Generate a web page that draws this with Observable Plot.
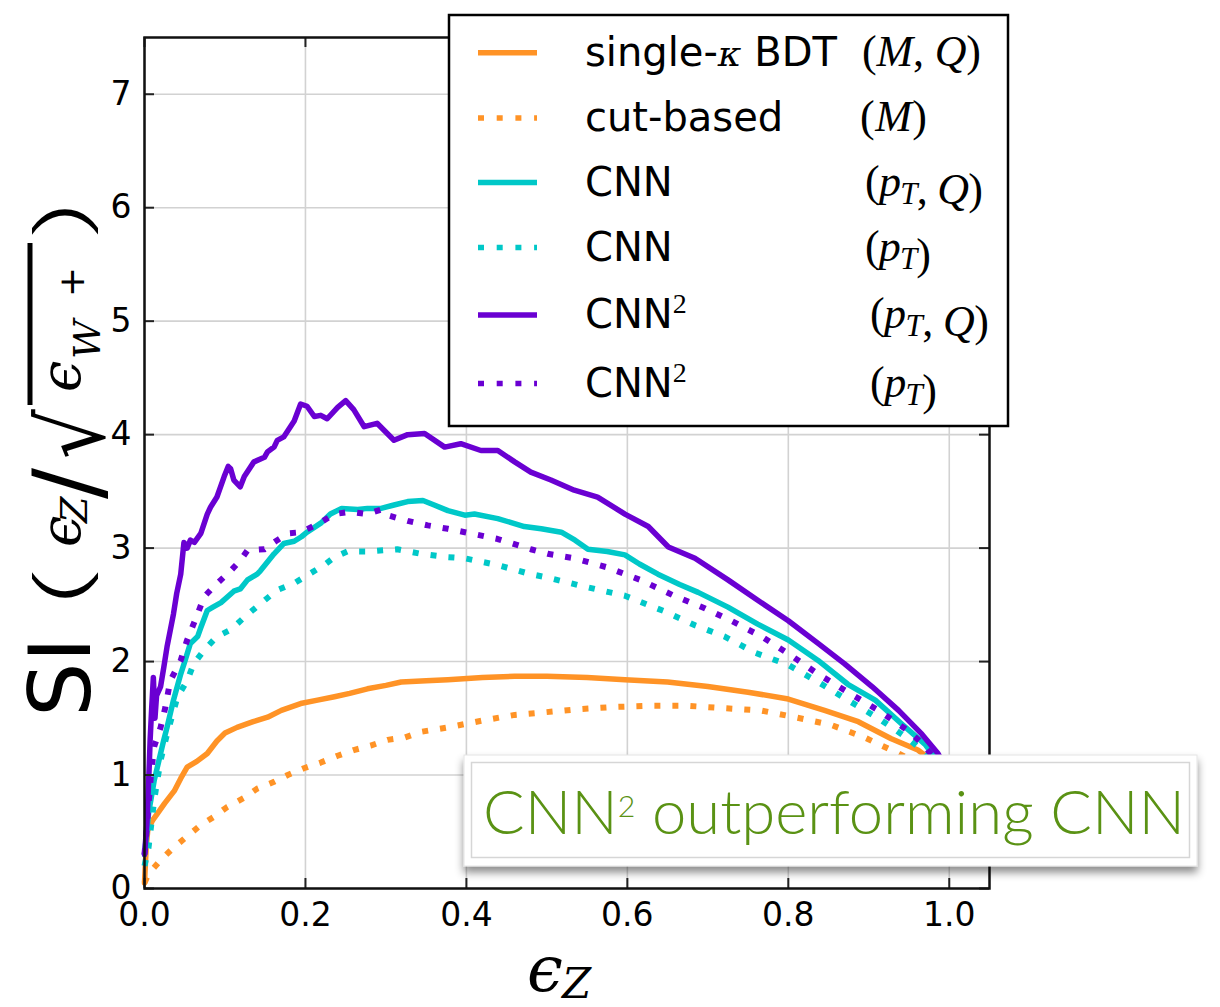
<!DOCTYPE html>
<html><head><meta charset="utf-8">
<script src="https://cdn.jsdelivr.net/npm/d3@7"></script>
<script src="https://cdn.jsdelivr.net/npm/@observablehq/plot@0.6"></script>
<style>html,body{margin:0;padding:0;background:#fff;} #chart{position:relative;width:1220px;height:1007px;overflow:hidden}</style>
</head><body><div id="chart"></div>
<script>
// ---------- data ----------
const xTicks = [0, 0.2, 0.4, 0.6, 0.8, 1.0];
const yTicks = [0, 1, 2, 3, 4, 5, 6, 7];

const seriesKeys = ["bdtMQ", "cutM", "cnnPtQ", "cnnPt", "cnn2PtQ", "cnn2Pt"];
const seriesColors = ["#ff9326", "#ff9326", "#00c8c8", "#00c8c8", "#6a00d2", "#6a00d2"];
const seriesDotted = [false, true, false, true, false, true];
const legendLabels = ["single-κ BDT", "cut-based", "CNN", "CNN", "CNN^2", "CNN^2"];
const legendMath = ["(M,Q)", "(M)", "(p_T,Q)", "(p_T)", "(p_T,Q)", "(p_T)"];
const annotationText = "CNN^2 outperforming CNN";

const bdtMQ = [[0,0.05],[0.002,0.35],[0.004,0.51],[0.01,0.6],[0.016,0.66],[0.025,0.75],[0.037,0.86],[0.045,0.97],[0.053,1.07],[0.065,1.12],[0.078,1.19],[0.09,1.3],[0.1,1.37],[0.115,1.42],[0.135,1.47],[0.153,1.51],[0.17,1.57],[0.194,1.63],[0.215,1.66],[0.236,1.69],[0.255,1.72],[0.277,1.76],[0.3,1.79],[0.319,1.82],[0.35,1.83],[0.377,1.84],[0.42,1.86],[0.46,1.87],[0.5,1.87],[0.55,1.86],[0.597,1.84],[0.65,1.82],[0.7,1.78],[0.75,1.73],[0.8,1.67],[0.845,1.57],[0.887,1.47],[0.928,1.32],[0.961,1.22],[0.98,1.12],[0.995,1.02]];
const cutM = [[0,0.05],[0.005,0.13],[0.02,0.25],[0.036,0.36],[0.053,0.46],[0.07,0.56],[0.086,0.63],[0.103,0.72],[0.124,0.8],[0.14,0.88],[0.161,0.94],[0.178,1.0],[0.198,1.06],[0.219,1.11],[0.24,1.17],[0.26,1.22],[0.281,1.26],[0.302,1.31],[0.323,1.33],[0.343,1.38],[0.377,1.42],[0.42,1.48],[0.46,1.53],[0.493,1.55],[0.539,1.58],[0.584,1.6],[0.629,1.61],[0.675,1.61],[0.719,1.59],[0.765,1.57],[0.808,1.51],[0.854,1.44],[0.895,1.33],[0.937,1.19],[0.97,1.07],[0.99,1.0]];
const cnnPtQ = [[0,0.3],[0.003,0.5],[0.005,0.66],[0.012,0.95],[0.02,1.19],[0.024,1.31],[0.028,1.42],[0.036,1.66],[0.045,1.89],[0.05,2.0],[0.057,2.16],[0.066,2.22],[0.07,2.3],[0.078,2.45],[0.085,2.48],[0.095,2.52],[0.111,2.62],[0.119,2.64],[0.128,2.72],[0.14,2.77],[0.144,2.8],[0.161,2.95],[0.173,3.04],[0.186,3.06],[0.195,3.1],[0.202,3.14],[0.219,3.22],[0.231,3.3],[0.245,3.35],[0.265,3.34],[0.277,3.35],[0.294,3.35],[0.31,3.38],[0.327,3.41],[0.346,3.42],[0.36,3.38],[0.377,3.33],[0.398,3.29],[0.41,3.3],[0.439,3.26],[0.472,3.19],[0.493,3.17],[0.518,3.14],[0.535,3.07],[0.551,2.99],[0.575,2.97],[0.597,2.94],[0.615,2.86],[0.638,2.77],[0.665,2.68],[0.688,2.61],[0.725,2.48],[0.762,2.33],[0.8,2.19],[0.837,2.01],[0.874,1.8],[0.908,1.66],[0.941,1.45],[0.97,1.27],[0.99,1.08]];
const cnnPt = [[0,0.2],[0.005,0.36],[0.012,0.78],[0.02,1.13],[0.028,1.36],[0.041,1.69],[0.053,1.83],[0.061,1.98],[0.074,2.1],[0.09,2.22],[0.107,2.28],[0.124,2.39],[0.144,2.51],[0.165,2.63],[0.186,2.69],[0.202,2.76],[0.223,2.85],[0.236,2.92],[0.252,2.97],[0.277,2.97],[0.314,2.99],[0.343,2.95],[0.377,2.92],[0.398,2.91],[0.439,2.85],[0.48,2.77],[0.501,2.74],[0.547,2.66],[0.597,2.58],[0.647,2.44],[0.684,2.32],[0.721,2.22],[0.758,2.08],[0.8,1.97],[0.837,1.82],[0.874,1.66],[0.912,1.5],[0.949,1.32],[0.966,1.22],[0.99,1.05]];
const cnn2PtQ = [[0,0.3],[0.003,0.57],[0.006,1.1],[0.007,1.31],[0.009,1.6],[0.011,1.86],[0.013,1.5],[0.015,1.7],[0.02,1.78],[0.024,1.95],[0.028,2.13],[0.036,2.42],[0.04,2.6],[0.045,2.77],[0.049,3.05],[0.053,3.0],[0.057,3.07],[0.062,3.05],[0.07,3.13],[0.078,3.3],[0.082,3.36],[0.09,3.45],[0.099,3.63],[0.104,3.72],[0.107,3.7],[0.111,3.6],[0.119,3.54],[0.124,3.63],[0.136,3.76],[0.149,3.8],[0.153,3.85],[0.161,3.89],[0.165,3.95],[0.173,3.98],[0.186,4.12],[0.194,4.27],[0.202,4.25],[0.211,4.16],[0.219,4.17],[0.227,4.14],[0.24,4.24],[0.25,4.3],[0.26,4.22],[0.273,4.07],[0.289,4.1],[0.31,3.95],[0.327,4.0],[0.348,4.01],[0.373,3.89],[0.393,3.92],[0.418,3.86],[0.439,3.86],[0.46,3.76],[0.48,3.67],[0.505,3.6],[0.534,3.51],[0.563,3.45],[0.597,3.3],[0.626,3.19],[0.651,3.01],[0.684,2.91],[0.725,2.72],[0.762,2.54],[0.8,2.36],[0.837,2.16],[0.87,1.98],[0.904,1.78],[0.937,1.57],[0.966,1.36],[0.986,1.19],[0.997,1.05]];
const cnn2Pt = [[0,0.3],[0.003,0.55],[0.008,1.0],[0.012,1.25],[0.02,1.42],[0.026,1.6],[0.032,1.83],[0.045,2.01],[0.053,2.19],[0.066,2.42],[0.074,2.57],[0.086,2.66],[0.095,2.72],[0.107,2.8],[0.119,2.89],[0.128,2.98],[0.149,2.99],[0.165,3.07],[0.178,3.13],[0.194,3.14],[0.215,3.21],[0.236,3.3],[0.256,3.32],[0.277,3.3],[0.294,3.34],[0.302,3.29],[0.327,3.24],[0.352,3.2],[0.377,3.17],[0.398,3.14],[0.439,3.08],[0.48,2.99],[0.501,2.95],[0.534,2.91],[0.575,2.83],[0.616,2.72],[0.658,2.58],[0.696,2.47],[0.729,2.36],[0.767,2.22],[0.8,2.07],[0.837,1.89],[0.874,1.73],[0.912,1.57],[0.949,1.39],[0.966,1.28],[0.99,1.08]];

const seriesData = [bdtMQ, cutM, cnnPtQ, cnnPt, cnn2PtQ, cnn2Pt];
const rows = seriesKeys.flatMap((k, i) => seriesData[i].map(([x, y]) => ({key: k, x, y})));

// ---------- layout ----------
const W = 1220, H = 1007;
const margin = {left: 144, right: 231, top: 37, bottom: 119};
const tickLen = 10;
const tickStyle = {stroke: "#222", strokeWidth: 2};

const lineMarks = seriesKeys.map((k, i) => Plot.line(rows.filter(d => d.key === k), {
  x: "x", y: "y", stroke: "key",
  strokeWidth: seriesDotted[i] ? 6 : 5.5,
  strokeDasharray: seriesDotted[i] ? "6,12" : null,
  strokeLinecap: seriesDotted[i] ? "butt" : "round",
  strokeLinejoin: "round"
}));

const plot = Plot.plot({
  width: W, height: H,
  marginLeft: margin.left, marginRight: margin.right, marginTop: margin.top, marginBottom: margin.bottom,
  x: {domain: [0, 1.05]},
  y: {domain: [0, 7.5]},
  color: {domain: seriesKeys, range: seriesColors},
  style: {fontFamily: "DejaVu Sans", fontSize: "33px", background: "white", color: "black", overflow: "visible"},
  marks: [
    Plot.ruleX(xTicks, {stroke: "#d2d2d2", strokeWidth: 1.6}),
    Plot.ruleY(yTicks, {stroke: "#d2d2d2", strokeWidth: 1.6}),
    ...lineMarks,
    // inward ticks on all four sides
    Plot.ruleX(xTicks, {x: d => d, y1: 0, y2: 0, insetTop: 0, insetBottom: tickLen, ...tickStyle}),
    Plot.ruleX(xTicks, {x: d => d, y1: 7.5, y2: 7.5, insetTop: 0, insetBottom: -tickLen, ...tickStyle}),
    Plot.ruleY(yTicks, {y: d => d, x1: 0, x2: 0, insetLeft: 0, insetRight: -tickLen, ...tickStyle}),
    Plot.ruleY(yTicks, {y: d => d, x1: 1.05, x2: 1.05, insetLeft: -tickLen, insetRight: 0, ...tickStyle}),
    Plot.frame({stroke: "#111", strokeWidth: 2.5}),
    Plot.axisX({ticks: xTicks, tickSize: 0, tickPadding: 14, tickFormat: d3.format(".1f"), label: null, fontSize: 33}),
    Plot.axisY({ticks: yTicks, tickSize: 0, tickPadding: 13, tickFormat: d3.format("d"), label: null, fontSize: 33})
  ]
});
document.getElementById("chart").appendChild(plot);

const svg = d3.select(plot);
const defs = svg.append("defs");
const f = defs.append("filter").attr("id", "shadow").attr("x", "-10%").attr("y", "-20%").attr("width", "120%").attr("height", "160%");
f.append("feDropShadow").attr("dx", 0).attr("dy", 6).attr("stdDeviation", 4).attr("flood-color", "#000").attr("flood-opacity", 0.45);

// ---------- y-axis label: SI (eps_Z / sqrt(eps_{W+})) ----------
const yl = svg.append("g").attr("transform", "translate(90,717) rotate(-90)").attr("fill", "black").attr("text-anchor", "start");
function yt(txt, u, v, size, fam, style, sx, sy, weight) {
  return yl.append("text").attr("transform", `translate(${u},${v}) scale(${sx || 1},${sy || 1})`)
    .attr("text-anchor", "start").attr("font-weight", weight || "normal")
    .attr("font-size", size).attr("font-family", fam).attr("font-style", style || "normal").text(txt);
}
yt("SI", 0, 0, 86, "DejaVu Sans");
yt("(", 114, -4, 76, "Open Sans", "normal", 1.7, 1, 300);
yt("ϵ", 170, -10, 56, "DejaVu Serif", "italic");
yt("Z", 194, -3, 38, "DejaVu Serif", "italic");
yt("/", 218, 9, 92, "DejaVu Sans");
yt("√", 258, 14, 78, "DejaVu Sans", "normal", 1, 1.15);
yl.append("line").attr("x1", 312).attr("x2", 474).attr("y1", -60).attr("y2", -60).attr("stroke", "black").attr("stroke-width", 5);
yt("ϵ", 325, -10, 56, "DejaVu Serif", "italic");
yt("W", 358, 10, 38, "DejaVu Serif", "italic");
yt("+", 420, -6, 36, "DejaVu Sans");
yt(")", 478, -4, 76, "Open Sans", "normal", 1.7, 1, 300);

// ---------- x-axis label ----------
const xl = svg.append("text").attr("font-family", "DejaVu Serif").attr("font-style", "italic").attr("fill", "black").attr("text-anchor", "start");
xl.append("tspan").attr("x", 527).attr("y", 991).attr("font-size", 64).text("ϵ");
xl.append("tspan").attr("x", 562).attr("y", 998).attr("font-size", 42).text("Z");

// ---------- legend ----------
const legendRowY = [52.7, 118, 182.5, 247.5, 315, 383.5];
const legendMathX = [862, 860, 865, 865, 870, 870];
const legendMathW = [119, 67, 118, 66, 119, 67];
const lg = svg.append("g").attr("text-anchor", "start");
lg.append("rect").attr("x", 449).attr("y", 15).attr("width", 559).attr("height", 411)
  .attr("fill", "white").attr("stroke", "black").attr("stroke-width", 2.5);
seriesKeys.forEach((k, i) => {
  const cy = legendRowY[i];
  lg.append("line").attr("x1", 478).attr("x2", 537).attr("y1", cy).attr("y2", cy)
    .attr("stroke", seriesColors[i]).attr("stroke-width", 5.5)
    .attr("stroke-dasharray", seriesDotted[i] ? "6,12.7" : null);
  const t = lg.append("text").attr("x", 585).attr("y", cy + 13).attr("text-anchor", "start").attr("font-family", "DejaVu Sans").attr("font-size", 40).attr("fill", "black");
  const lab = legendLabels[i];
  if (lab.includes("κ")) {
    const [a, b] = lab.split("κ");
    t.append("tspan").text(a);
    t.append("tspan").attr("font-family", "DejaVu Serif").attr("font-style", "italic").attr("font-size", 36).text("κ");
    t.append("tspan").text(b);
  } else if (lab.includes("^")) {
    const [a, b] = lab.split("^");
    t.append("tspan").text(a);
    t.append("tspan").attr("font-family", "Liberation Serif").attr("font-size", 28).attr("dy", -15).text(b);
  } else {
    t.text(lab);
  }
  // math part
  const m = lg.append("text").attr("x", legendMathX[i]).attr("y", cy + 13).attr("text-anchor", "start").attr("font-family", "Liberation Serif").attr("font-size", 44).attr("fill", "black")
    .attr("textLength", legendMathW[i]).attr("lengthAdjust", "spacing");
  const s = legendMath[i];
  for (let j = 0; j < s.length; j++) {
    const c = s[j];
    if (c === "_") {
      m.append("tspan").attr("font-style", "italic").attr("font-size", 31).attr("dy", 8).text(s[j + 1]);
      j++;
      m.append("tspan").attr("dy", -8).text("");
    } else if (/[A-Za-z]/.test(c)) {
      m.append("tspan").attr("font-style", "italic").text(c);
    } else {
      m.append("tspan").text(c === "," ? ", " : c);
    }
  }
});

// ---------- annotation box ----------
const an = svg.append("g").attr("text-anchor", "start");
an.append("rect").attr("x", 464).attr("y", 755).attr("width", 733).attr("height", 111)
  .attr("fill", "white").attr("stroke", "#e4e4e4").attr("stroke-width", 1).attr("filter", "url(#shadow)");
an.append("rect").attr("x", 471.5).attr("y", 762.5).attr("width", 718).attr("height", 95)
  .attr("fill", "none").attr("stroke", "#d6d6d6").attr("stroke-width", 1.5);
const at = an.append("text").attr("x", 483).attr("y", 834).attr("text-anchor", "start").attr("font-family", "Lato").attr("font-weight", 300)
  .attr("font-size", 61).attr("fill", "#5a9214").attr("textLength", 702).attr("lengthAdjust", "spacingAndGlyphs");
const [aPre, aPost] = annotationText.split("^");
at.append("tspan").text(aPre);
at.append("tspan").attr("font-size", 30).attr("dy", -17).text(aPost[0]);
at.append("tspan").attr("dy", 17).text(aPost.slice(1));
</script></body></html>
